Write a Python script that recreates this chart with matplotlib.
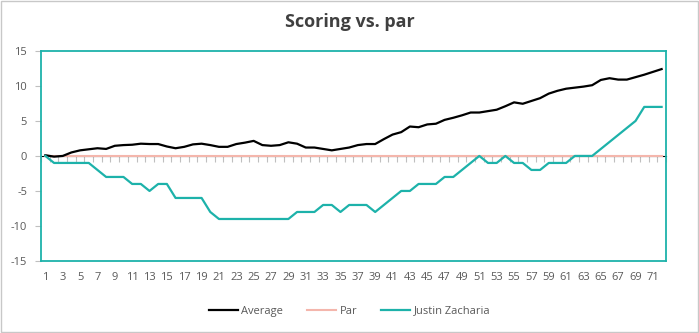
import numpy as np
import matplotlib
matplotlib.use("Agg")
import matplotlib.pyplot as plt
from matplotlib.patches import Rectangle

plt.rcParams['font.family'] = ['Open Sans', 'DejaVu Sans']

holes = list(range(1, 73))
par = [0] * 72
average = [0.1, -0.1, 0.0, 0.5, 0.8, 0.95, 1.1, 1.0, 1.45, 1.55,
           1.6, 1.75, 1.7, 1.7, 1.35, 1.1, 1.3, 1.65, 1.75, 1.55,
           1.3, 1.3, 1.7, 1.9, 2.15, 1.55, 1.45, 1.55, 1.95, 1.75,
           1.2, 1.2, 1.0, 0.8, 1.0, 1.2, 1.55, 1.7, 1.7, 2.4,
           3.05, 3.4, 4.2, 4.1, 4.5, 4.6, 5.15, 5.45, 5.8, 6.2,
           6.2, 6.4, 6.6, 7.1, 7.65, 7.45, 7.85, 8.25, 8.9, 9.3,
           9.6, 9.75, 9.9, 10.1, 10.85, 11.1, 10.9, 10.9, 11.25, 11.6,
           12.0, 12.4]
justin = [0, -1, -1, -1, -1, -1, -2, -3, -3, -3,
          -4, -4, -5, -4, -4, -6, -6, -6, -6, -8,
          -9, -9, -9, -9, -9, -9, -9, -9, -9, -8,
          -8, -8, -7, -7, -8, -7, -7, -7, -8, -7,
          -6, -5, -5, -4, -4, -4, -3, -3, -2, -1,
          0, -1, -1, 0, -1, -1, -2, -2, -1, -1,
          -1, 0, 0, 0, 1, 2, 3, 4, 5, 7,
          7, 7]
xtick_labels = [str(h) for h in holes[::2]]

teal = '#1DB2AA'
gray_txt = '#595959'

fig = plt.figure(figsize=(6.99, 3.33), dpi=100)
ax = fig.add_axes([0.0587, 0.2162, 0.894, 0.631])

ax.plot(holes, par, color='#F4B6AC', lw=1.5, label='Par', zorder=2)
ax.plot(holes, average, color='black', lw=1.6, label='Average', zorder=3)
ax.plot(holes, justin, color=teal, lw=1.6, label='Justin Zacharia', zorder=3)

ax.set_xlim(0.5, 72.5)
ax.set_ylim(-15, 15)
ax.set_yticks([-15, -10, -5, 0, 5, 10, 15])
ax.set_yticklabels(['-15', '-10', '-5', '0', '5', '10', '15'])
ax.set_xticks(holes[::2])
ax.set_xticklabels(xtick_labels)
ax.tick_params(axis='x', length=0, pad=8, labelsize=8, labelcolor=gray_txt)
ax.tick_params(axis='y', length=4, color='#BFBFBF', width=0.8, pad=6,
               labelsize=8, labelcolor=gray_txt)
for s in ax.spines.values():
    s.set_color(teal)
    s.set_linewidth(1.3)

# category boundary ticks hanging below the zero line
sec = ax.secondary_xaxis(0.5)
sec.set_xticks(np.arange(0.5, 73, 1))
sec.set_xticklabels([])
sec.tick_params(axis='x', length=4, color='#BFBFBF', width=0.8, direction='in')
sec.spines['bottom'].set_visible(False)

fig.suptitle('Scoring vs. par', x=0.5, y=0.96, fontsize=13,
             fontweight='bold', color='#404040')

h, l = ax.get_legend_handles_labels()
order = [1, 0, 2]
fig.legend([h[i] for i in order], [l[i] for i in order], loc='center',
           bbox_to_anchor=(0.5, 0.066), ncol=3, frameon=False, fontsize=8,
           labelcolor=gray_txt, handlelength=2.6, handletextpad=0.3,
           columnspacing=2.2)

fig.patches.append(Rectangle((0.001, 0.002), 0.997, 0.995, transform=fig.transFigure,
                             fill=False, edgecolor='#C8C8C8', lw=1.0))

fig.savefig('out.png', dpi=100)
